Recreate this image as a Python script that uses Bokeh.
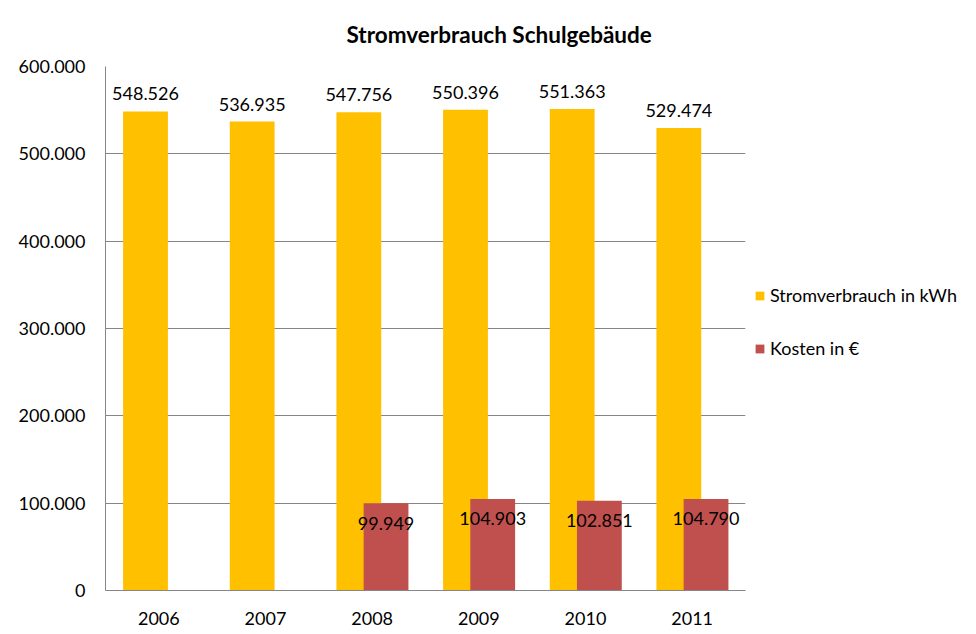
from bokeh.plotting import figure
from bokeh.models import FactorRange, Range1d, ColumnDataSource, Legend, LegendItem, FixedTicker
from bokeh.transform import dodge
from bokeh.core.properties import value
from bokeh.embed import file_html
from bokeh.resources import INLINE

years = ["2006", "2007", "2008", "2009", "2010", "2011"]
verbrauch = [548526, 536935, 547756, 550396, 551363, 529474]
kosten = [None, None, 99949, 104903, 102851, 104790]
y_ticks = [0, 100000, 200000, 300000, 400000, 500000, 600000]
y_tick_labels = ["0", "100.000", "200.000", "300.000", "400.000", "500.000", "600.000"]
title_text = "Stromverbrauch Schulgebäude"
series_names = ["Stromverbrauch in kWh", "Kosten in €"]
colors = ["#FFC000", "#C0504D"]

FONT = "Lato"


def de(v):
    return f"{v:,}".replace(",", ".")


src_v = ColumnDataSource(dict(year=years, v=verbrauch, lbl=[de(v) for v in verbrauch]))
ky = [y for y, k in zip(years, kosten) if k is not None]
kv = [k for k in kosten if k is not None]
src_k = ColumnDataSource(dict(year=ky, v=kv, lbl=[de(v) for v in kv]))

p = figure(x_range=FactorRange(*years, range_padding=0), y_range=Range1d(0, 600000),
           frame_width=640, frame_height=524,
           min_border_left=105, min_border_top=66, min_border_right=215, min_border_bottom=36,
           output_backend="svg", toolbar_location=None, title=title_text)
p.outline_line_color = None
p.background_fill_color = "white"
p.border_fill_color = "white"

p.title.align = "left"
p.title.offset = 241
p.title.standoff = 37
p.title.text_font = FONT
p.title.text_font_size = "22.5px"
p.title.text_font_style = "bold"
p.title.text_color = "black"

r1 = p.vbar(x=dodge("year", -0.125, range=p.x_range), top="v", width=0.42, bottom=0,
            source=src_v, fill_color=colors[0], line_color=None)
r2 = p.vbar(x=dodge("year", 0.13, range=p.x_range), top="v", width=0.42, bottom=0,
            source=src_k, fill_color=colors[1], line_color=None)

p.text(x=dodge("year", -0.125, range=p.x_range), y="v", text="lbl", source=src_v,
       text_align="center", text_baseline="bottom", y_offset=-11,
       text_font=value(FONT), text_font_size="18px", text_color="black")
p.text(x=dodge("year", 0.13, range=p.x_range), y="v", text="lbl", source=src_k,
       text_align="center", text_baseline="middle", y_offset=20,
       text_font=value(FONT), text_font_size="18px", text_color="black")

grey = "#868686"
p.xgrid.grid_line_color = None
p.ygrid.grid_line_color = grey
p.ygrid.ticker = FixedTicker(ticks=y_ticks)

p.yaxis.ticker = FixedTicker(ticks=y_ticks)
p.yaxis.major_label_overrides = {t: l for t, l in zip(y_ticks, y_tick_labels)}
for ax in (p.xaxis[0], p.yaxis[0]):
    ax.axis_line_color = grey
    ax.major_tick_in = 0
    ax.major_tick_out = 0
    ax.minor_tick_line_color = None
    ax.major_label_text_font = FONT
    ax.major_label_text_font_size = "18px"
    ax.major_label_text_color = "black"
p.yaxis.major_label_standoff = 20
p.xaxis.major_label_standoff = 21

legend = Legend(items=[LegendItem(label=series_names[0], renderers=[r1]),
                       LegendItem(label=series_names[1], renderers=[r2])],
                location=(9, 231), orientation="vertical",
                glyph_width=11, glyph_height=11, label_height=20, spacing=31,
                label_standoff=5, padding=0, margin=0,
                border_line_color=None, background_fill_alpha=0,
                label_text_font=FONT, label_text_font_size="18px",
                label_text_color="black")
p.add_layout(legend, "right")

open("out.html", "w").write(file_html(p, INLINE))
